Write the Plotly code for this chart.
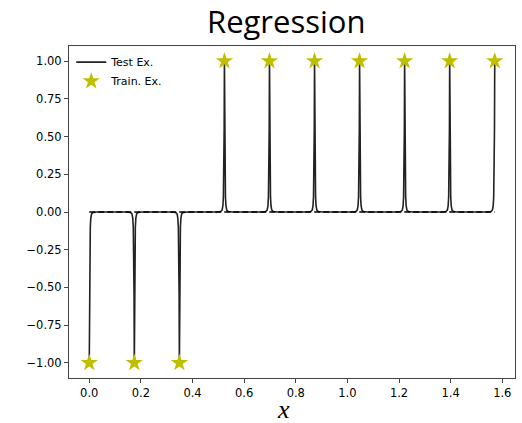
import numpy as np
import plotly.graph_objects as go

# Training examples
train_x = [0.0, 0.1745, 0.3491, 0.5236, 0.6981, 0.8727, 1.0472, 1.2217, 1.3963, 1.5708]
train_y = [-1, -1, -1, 1, 1, 1, 1, 1, 1, 1]

# Spike shape (offset from a training x, fraction of height)
spike_offsets = [-0.030, -0.015, -0.009, -0.006, -0.004, -0.002, -0.001, 0.0,
                 0.001, 0.002, 0.004, 0.006, 0.009, 0.015, 0.030]
spike_profile = [0.0, 0.003, 0.012, 0.04, 0.10, 0.30, 0.55, 1.0,
                 0.55, 0.30, 0.10, 0.04, 0.012, 0.003, 0.0]

x_ticks = [0.0, 0.2, 0.4, 0.6, 0.8, 1.0, 1.2, 1.4, 1.6]
y_ticks = [-1.0, -0.75, -0.5, -0.25, 0.0, 0.25, 0.5, 0.75, 1.0]

# build the test curve from the spikes
cx, cy = [], []
for tx, ty in zip(train_x, train_y):
    for off, p in zip(spike_offsets, spike_profile):
        xx = tx + off
        if xx < train_x[0] - 1e-9 or xx > train_x[-1] + 1e-9:
            continue
        cx.append(xx)
        cy.append(ty * p)

fig = go.Figure()
fig.add_trace(go.Scatter(x=cx, y=cy, mode="lines", line=dict(color="#222", width=1.6),
                         name="Test Ex."))
fig.add_trace(go.Scatter(x=[train_x[0], train_x[-1]], y=[0, 0], mode="lines",
                         line=dict(color="black", width=1.6, dash="6px,3px"),
                         showlegend=False, hoverinfo="skip"))
fig.add_trace(go.Scatter(x=train_x, y=train_y, mode="markers",
                         marker=dict(symbol="star", size=13, color="#bfbf00",
                                     line=dict(width=0)),
                         name="Train. Ex."))

axis_common = dict(showgrid=False, zeroline=False, showline=True, mirror=True,
                   linecolor="#444", linewidth=1, ticks="outside", ticklen=4,
                   tickcolor="#444", automargin=False,
                   tickfont=dict(family="DejaVu Sans", size=11.5, color="black"))
fig.update_layout(
    width=522, height=423,
    margin=dict(l=69, r=7, t=46, b=45),
    plot_bgcolor="white", paper_bgcolor="white",
    xaxis=dict(range=[-0.0785, 1.6493], tickvals=x_ticks,
               ticktext=[f"{v:.1f}" for v in x_ticks],
               **axis_common),
    yaxis=dict(range=[-1.1, 1.1], tickvals=y_ticks,
               ticktext=[f"{v:.2f}".replace("-", "\u2212") for v in y_ticks],
               **axis_common),
    legend=dict(x=0.005, y=0.995, xanchor="left", yanchor="top", bgcolor="rgba(255,255,255,0.8)",
                font=dict(family="DejaVu Sans", size=11, color="black"), tracegroupgap=0),
    showlegend=True,
    annotations=[
        dict(text="Regression", xref="paper", yref="paper", x=0.487, y=1.0, yshift=25,
             xanchor="center", yanchor="middle", showarrow=False,
             font=dict(family="Open Sans", size=31, color="black")),
        dict(text="<i>x</i>", xref="paper", yref="paper", x=0.482, y=0, yshift=-31,
             xanchor="center", yanchor="middle", showarrow=False,
             font=dict(family="Liberation Serif", size=26, color="black")),
    ],
)
fig.write_html("out.html")
